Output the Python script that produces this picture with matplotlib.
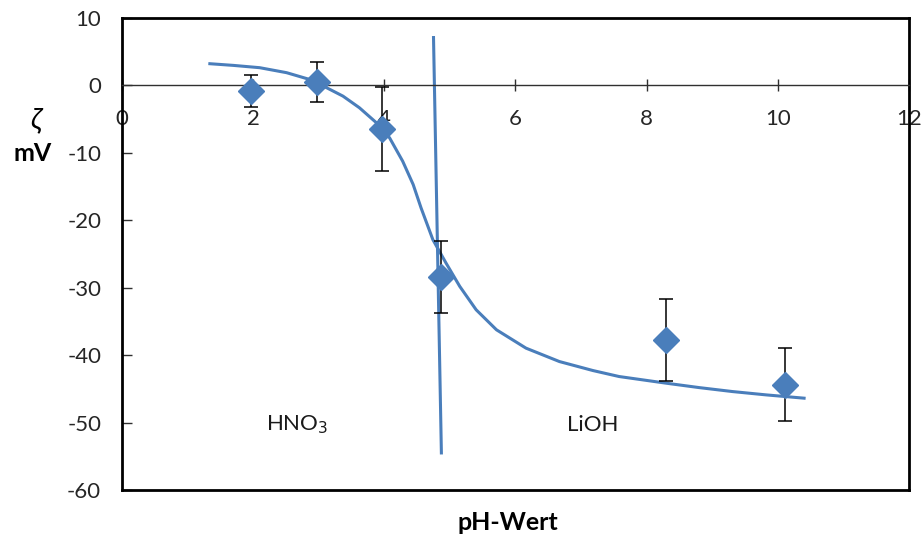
import matplotlib
matplotlib.use("Agg")
import matplotlib.pyplot as plt

plt.rcParams['font.family'] = ['Lato', 'DejaVu Sans']
plt.rcParams['axes.unicode_minus'] = False

# measured zeta potential
ph = [1.97, 2.97, 3.97, 4.86, 8.30, 10.11]
zeta = [-0.8, 0.5, -6.5, -28.4, -37.7, -44.4]
zeta_err = [2.4, 2.95, 6.2, 5.3, 6.1, 5.4]

# fitted curve
fit_ph = [1.34, 1.70, 2.10, 2.51, 2.86, 3.12, 3.37, 3.62, 3.88, 4.08, 4.28,
          4.44, 4.56, 4.74, 4.94, 5.15, 5.40, 5.71, 6.16, 6.67, 7.18, 7.58,
          8.30, 8.80, 9.31, 9.82, 10.40]
fit_zeta = [3.22, 2.97, 2.63, 1.89, 0.89, -0.34, -1.59, -3.31, -5.54, -7.77, -11.24,
            -14.70, -18.16, -22.87, -26.33, -29.80, -33.27, -36.24, -38.96, -40.95, -42.28, -43.17,
            -44.16, -44.81, -45.40, -45.89, -46.38]

# separating line HNO3 / LiOH
sep_ph = [4.75, 4.87]
sep_zeta = [7.1, -54.5]

xticks = [0, 2, 4, 6, 8, 10, 12]
yticks = [10, 0, -10, -20, -30, -40, -50, -60]

blue = '#4a7ebb'

fig = plt.figure(figsize=(9.24, 5.42), dpi=100)
ax = fig.add_axes([0.132, 0.0959, 0.8518, 0.8709])

ax.plot(fit_ph, fit_zeta, color=blue, lw=2.2, zorder=2, solid_joinstyle='round')
ax.plot(sep_ph, sep_zeta, color=blue, lw=2.2, zorder=2)
ax.errorbar(ph, zeta, yerr=zeta_err, fmt='D', color=blue, ms=13,
            ecolor='black', elinewidth=1.1, capsize=5, capthick=1.1, zorder=3)

ax.set_xlim(0, 12)
ax.set_ylim(-60, 10)
ax.set_xticks(xticks)
ax.set_yticks(yticks)

# x axis through zero, frame drawn separately
ax.spines['bottom'].set_position(('data', 0))
ax.spines['bottom'].set_linewidth(1.0)
ax.spines['bottom'].set_color('#303030')
for s in ['left', 'top', 'right']:
    ax.spines[s].set_linewidth(2.0)
    ax.spines[s].set_color('black')
ax.plot([0, 1], [0, 0], transform=ax.transAxes, color='black', lw=2.0,
        clip_on=False, zorder=4)

ax.tick_params(axis='x', direction='inout', length=8, width=1, pad=13,
               labelsize=16, labelcolor='#262626', color='#303030')
ax.tick_params(axis='y', direction='in', length=7, width=1, pad=15,
               labelsize=16, labelcolor='#262626', color='#303030')

ax.text(2.67, -50.3, 'HNO$_3$', ha='center', va='center', fontsize=16, color='#1a1a1a')
ax.text(7.17, -50.3, 'LiOH', ha='center', va='center', fontsize=16, color='#1a1a1a')

fig.text(35 / 924, 1 - 120 / 542, 'ζ', ha='center', va='center', fontsize=21, fontstyle='italic')
fig.text(33 / 924, 1 - 153 / 542, 'mV', ha='center', va='center', fontsize=18, fontweight='bold')
fig.text(508 / 924, 1 - 523 / 542, 'pH-Wert', ha='center', va='center', fontsize=18, fontweight='bold')

fig.savefig('out.png', dpi=100)
